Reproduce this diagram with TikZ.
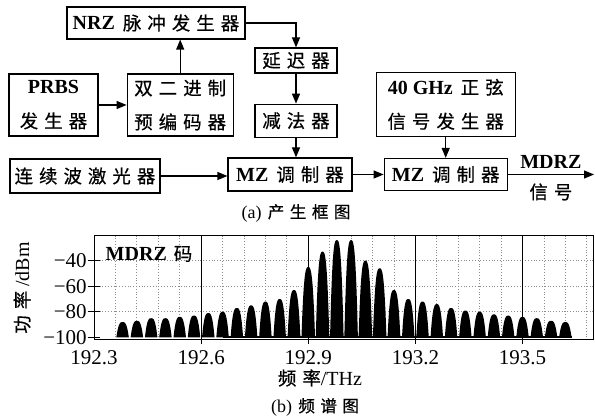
\documentclass[tikz,border=0pt]{standalone}
\usepackage{fontspec}
\setmainfont{Liberation Serif}
\newfontfamily\cjk[Scale=0.92,LetterSpace=33,FakeBold=0.6]{Noto Sans CJK SC}
\newcommand{\zh}[1]{{\cjk #1}}
\usetikzlibrary{arrows.meta,positioning}

\begin{document}
\begin{tikzpicture}[
  x=1pt, y=1pt,
  font=\fontsize{20}{34}\selectfont,
  >={Triangle[length=10pt,width=8pt]},
  box/.style={rectangle, draw=black, line width=1.2pt, align=center, inner sep=0pt},
  conn/.style={->, line width=1.2pt},
  gridln/.style={black!45, dotted, line width=0.8pt},
  lbl/.style={inner sep=0pt},
]
\useasboundingbox (0,0) rectangle (595,420);

% (a) block diagram
\node[box, minimum width=178pt, minimum height=32pt] (nrz) at (156,397) {\textbf{NRZ}\hspace{0.4em}\zh{脉冲发生器}};
\node[box, minimum width=89pt, minimum height=62pt] (prbs) at (53.5,315) {\textbf{PRBS}\\\zh{发生器}};
\node[box, minimum width=106pt, minimum height=62pt, right=28pt of prbs] (pre) {\zh{双二进制}\\\zh{预编码器}};
\node[box, minimum width=82pt, minimum height=25pt] (delay) at (296,359.5) {\zh{延迟器}};
\node[box, minimum width=82pt, minimum height=33pt, below=30pt of delay] (sub) {\zh{减法器}};
\node[box, minimum width=150pt, minimum height=34pt] (laser) at (85,244) {\zh{连续波激光器}};
\node[box, minimum width=124pt, minimum height=33pt] (mz1) at (290,245.5) {\textbf{MZ}\hspace{0.4em}\zh{调制器}};
\node[box, minimum width=123pt, minimum height=32pt, right=31pt of mz1] (mz2) {\textbf{MZ}\hspace{0.4em}\zh{调制器}};
\node[box, minimum width=139pt, minimum height=64pt, above=21pt of mz2] (sine) {\textbf{40 GHz}\hspace{0.4em}\zh{正弦}\\\zh{信号发生器}};
\coordinate (out) at (594,245.5);

\draw[conn] (prbs) -- (pre);
\draw[conn] (pre.north) -- (pre.north |- nrz.south);
\draw[conn] (nrz.east) -| (delay.north);
\draw[conn] (delay) -- (sub);
\draw[conn] (sub.south) -- (sub.south |- mz1.north);
\draw[conn] (laser) -- (laser -| mz1.west);
\draw[conn] (mz1) -- (mz2);
\draw[conn] (sine) -- (mz2);
\draw[conn] (mz2) -- node[above=2pt] (mdrz) {\textbf{MDRZ}} node[below=5pt] (sig) {\zh{信号}} (out);

\node[lbl, font=\fontsize{18}{20}\selectfont] (capa) at (296,207) {(a)\hspace{0.35em}\zh{产生框图}};

% (b) spectrum
\begin{scope}[xshift=94pt, yshift=80pt, x=357.1pt, y=1.28pt]
  \foreach \i in {1,...,23} \draw[gridln] (\i*0.06,0) -- (\i*0.06,82);
  \foreach \v in {22,42,62} \draw[gridln] (0,\v) -- (1.4,\v);
  \foreach \u in {0.3,0.6,0.9,1.2} \draw[line width=0.9pt] (\u,-3) -- (\u,82);
  \foreach \k/\hl/\hr/\w in {0/-24/-24/0.019, 1/-33/-40/0.019, 2/-45/-46/0.019, 3/-63/-63/0.018,
      4/-70/-70/0.0175, 5/-72/-72/0.0175, 6/-75/-74/0.0175, 7/-77/-77/0.0175, 8/-80/-79/0.0175,
      9/-81/-80/0.0175, 10/-83/-82/0.0175, 11/-84/-83/0.0175, 12/-85/-84/0.0175,
      13/-85/-85/0.0175, 14/-87/-87/0.0175, 15/-88/-88/0.0175} {
    \pgfmathsetmacro\cl{0.68-0.04*\k}
    \pgfmathsetmacro\cr{0.72+0.04*\k}
    \fill plot[domain=-1:1, samples=17, smooth] ({\cl+\w*\x}, {2+(\hl+100)*(1-abs(\x)*abs(\x)*abs(\x))}) -- cycle;
    \fill plot[domain=-1:1, samples=17, smooth] ({\cr+\w*\x}, {2+(\hr+100)*(1-abs(\x)*abs(\x)*abs(\x))}) -- cycle;
  }
  \draw[line width=2pt] (0.362,2) -- (1.338,2);
  \draw[line width=1pt] (0,0) rectangle (1.4,82);
  \foreach \v/\t [count=\n] in {2/−100, 22/−80, 42/−60, 62/−40} {
    \draw[line width=1pt] (-0.018,\v) -- (0.018,\v);
    \node[anchor=east, lbl, font=\fontsize{21}{24}\selectfont] (yt\n) at (-0.02,\v) {\t};
  }
  \foreach \u/\t [count=\n] in {0/192.3, 0.3/192.6, 0.6/192.9, 0.9/193.2, 1.2/193.5}
    \node[lbl, font=\fontsize{21}{24}\selectfont] (xt\n) at (\u,-14) {\t};
\end{scope}

\node[lbl] (code) at (149,166) {\textbf{MDRZ}\hspace{0.35em}\zh{码}};
\node[lbl, rotate=90] (ylab) at (22,132) {\zh{功率}\hspace{0.2em}/dBm};
\node[lbl] (xlab) at (320,42) {\zh{频率}/THz};
\node[lbl, font=\fontsize{18}{20}\selectfont] (capb) at (315,13) {(b)\hspace{0.35em}\zh{频谱图}};
\end{tikzpicture}
\end{document}
